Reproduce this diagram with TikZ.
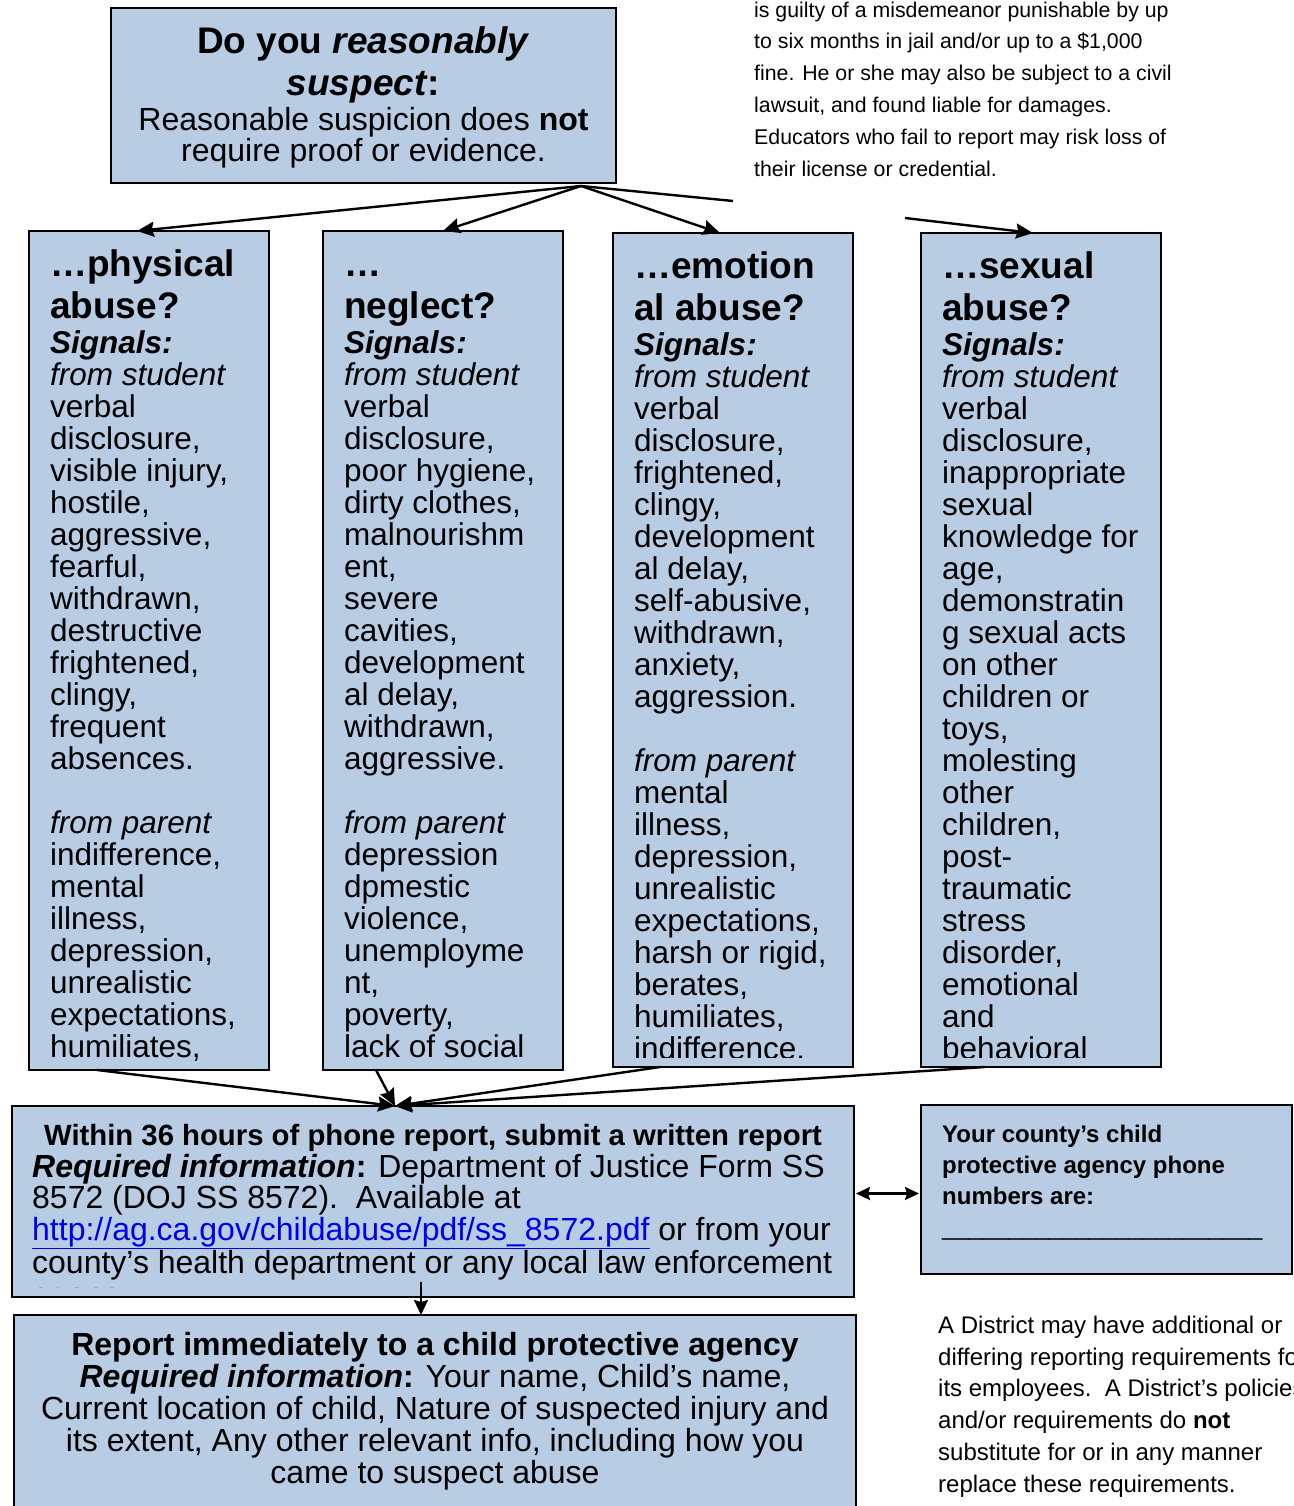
\documentclass[tikz,border=0pt]{standalone}
\usepackage{fontspec}
\setmainfont{Liberation Sans}
\usetikzlibrary{arrows.meta}

\definecolor{boxblue}{HTML}{B8CCE4}
\definecolor{urlblue}{HTML}{0000EE}

\newcommand\headfont{\fontsize{37}{42}\selectfont\bfseries}
\newcommand\colfont{\fontsize{31.5}{32}\selectfont}

\begin{document}
\begin{tikzpicture}[x=1pt,y=-1pt]

    \tikzset{
      panel/.style={
        draw=black,
        fill=boxblue,
        line width=2pt,
        outer sep=0pt,
        inner sep=0pt,
        anchor=north west,
      },
      txt/.style={inner sep=0pt, align=left, anchor=north west},
      feed/.style={line width=2.4pt, -{Stealth[length=17pt,width=15pt,inset=2pt]}},
    }
    \useasboundingbox (0,0) rectangle (1293,1506);

    % question box and the note beside it
    \node[panel, minimum width=505pt, minimum height=175pt] (suspect) at (111,8) {};
    \node[inner sep=0pt, align=center, anchor=north, font=\headfont] (suspectHead)
      at ([yshift=-15pt]suspect.north) {\rule{0pt}{30pt}Do you \textit{reasonably}\\\textit{suspect}:};
    \node[inner sep=0pt, align=center, anchor=north, font=\fontsize{32}{31.5}\selectfont] (suspectNote)
      at ([yshift=-96pt]suspect.north) {\rule{0pt}{26pt}Reasonable suspicion does \textbf{not}\\require proof or evidence.};
    \node[txt, font=\fontsize{21.3}{31.8}\selectfont] (penalty) at (754,-3)
      {\rule{0pt}{20pt}is guilty of a misdemeanor punishable by up\\to six months in jail and/or up to a \$1,000\\fine. He or she may also be subject to a civil\\lawsuit, and found liable for damages.\\Educators who fail to report may risk loss of\\their license or credential.};

    % the four kinds of abuse
    \node[panel, minimum width=240pt, minimum height=839pt] (physical) at (29,231) {};
    \begin{scope}
      \clip ([shift={(1pt,-1pt)}]physical.north west) rectangle ([shift={(-1pt,10pt)}]physical.south east);
      \node[txt, font=\headfont] (physicalHead) at ([shift={(21pt,-15pt)}]physical.north west)
        {\rule{0pt}{30pt}…physical\\abuse?};
      \node[txt, font=\colfont] (physicalSigns) at ([shift={(21pt,-96pt)}]physical.north west)
        {\rule{0pt}{26pt}\textbf{\textit{Signals:}}\\\textit{from student}\\verbal\\disclosure,\\visible injury,\\hostile,\\aggressive,\\fearful,\\withdrawn,\\destructive\\frightened,\\clingy,\\frequent\\absences.\\[32pt]\textit{from parent}\\indifference,\\mental\\illness,\\depression,\\unrealistic\\expectations,\\humiliates,};
    \end{scope}

    \node[panel, minimum width=240pt, minimum height=839pt] (neglect) at (323,231) {};
    \begin{scope}
      \clip ([shift={(1pt,-1pt)}]neglect.north west) rectangle ([shift={(-1pt,10pt)}]neglect.south east);
      \node[txt, font=\headfont] (neglectHead) at ([shift={(21pt,-15pt)}]neglect.north west)
        {\rule{0pt}{30pt}…\\neglect?};
      \node[txt, font=\colfont] (neglectSigns) at ([shift={(21pt,-96pt)}]neglect.north west)
        {\rule{0pt}{26pt}\textbf{\textit{Signals:}}\\\textit{from student}\\verbal\\disclosure,\\poor hygiene,\\dirty clothes,\\malnourishm\\ent,\\severe\\cavities,\\development\\al delay,\\withdrawn,\\aggressive.\\[32pt]\textit{from parent}\\depression\\dpmestic\\violence,\\unemployme\\nt,\\poverty,\\lack of social};
    \end{scope}

    \node[panel, minimum width=240pt, minimum height=834pt] (emotional) at (613,233) {};
    \begin{scope}
      \clip ([shift={(1pt,-1pt)}]emotional.north west) rectangle ([shift={(-1pt,10pt)}]emotional.south east);
      \node[txt, font=\headfont] (emotionalHead) at ([shift={(21pt,-15pt)}]emotional.north west)
        {\rule{0pt}{30pt}…emotion\\al abuse?};
      \node[txt, font=\colfont] (emotionalSigns) at ([shift={(21pt,-96pt)}]emotional.north west)
        {\rule{0pt}{26pt}\textbf{\textit{Signals:}}\\\textit{from student}\\verbal\\disclosure,\\frightened,\\clingy,\\development\\al delay,\\self-abusive,\\withdrawn,\\anxiety,\\aggression.\\[32pt]\textit{from parent}\\mental\\illness,\\depression,\\unrealistic\\expectations,\\harsh or rigid,\\berates,\\humiliates,\\indifference.};
    \end{scope}

    \node[panel, minimum width=240pt, minimum height=834pt] (sexual) at (921,233) {};
    \begin{scope}
      \clip ([shift={(1pt,-1pt)}]sexual.north west) rectangle ([shift={(-1pt,10pt)}]sexual.south east);
      \node[txt, font=\headfont] (sexualHead) at ([shift={(21pt,-15pt)}]sexual.north west)
        {\rule{0pt}{30pt}…sexual\\abuse?};
      \node[txt, font=\colfont] (sexualSigns) at ([shift={(21pt,-96pt)}]sexual.north west)
        {\rule{0pt}{26pt}\textbf{\textit{Signals:}}\\\textit{from student}\\verbal\\disclosure,\\inappropriate\\sexual\\knowledge for\\age,\\demonstratin\\g sexual acts\\on other\\children or\\toys,\\molesting\\other\\children,\\post-\\traumatic\\stress\\disorder,\\emotional\\and\\behavioral};
    \end{scope}

    % written report
    \node[panel, minimum width=842pt, minimum height=191pt] (written) at (12,1106) {};
    \begin{scope}
      \clip ([shift={(1pt,-1pt)}]written.north west) rectangle ([shift={(-1pt,10pt)}]written.south east);
      \node[inner sep=0pt, align=center, anchor=north, font=\fontsize{29.3}{32}\selectfont\bfseries] (writtenHead)
        at ([yshift=-13pt]written.north) {\rule{0pt}{26pt}Within 36 hours of phone report, submit a written report};
      \node[txt, font=\fontsize{32}{31.7}\selectfont] (writtenInfo) at ([shift={(20pt,-45pt)}]written.north west)
        {\rule{0pt}{26pt}\textbf{\textit{Required information}:} Department of Justice Form SS\\8572 (DOJ SS 8572).\ \ Available at\\\textcolor{urlblue}{\underline{http://ag.ca.gov/childabuse/pdf/ss\_8572.pdf}} or from your\\county’s health department or any local law enforcement\\agency.};
    \end{scope}

    % phone report
    \node[panel, minimum width=842pt, minimum height=230pt] (agency) at (14,1315) {};
    \node[inner sep=0pt, align=center, anchor=north, font=\fontsize{32}{32}\selectfont] (agencyInfo)
      at ([yshift=-14pt]agency.north)
      {\rule{0pt}{26pt}\textbf{Report immediately to a child protective agency}\\\textbf{\textit{Required information}:} Your name, Child’s name,\\Current location of child, Nature of suspected injury and\\its extent, Any other relevant info, including how you\\came to suspect abuse};

    % phone numbers and district note
    \node[panel, minimum width=371pt, minimum height=169pt] (phone) at (921,1105) {};
    \node[txt, font=\fontsize{24}{31}\selectfont\bfseries] (phoneInfo) at ([shift={(21pt,-17pt)}]phone.north west)
      {\rule{0pt}{20pt}Your county’s child\\protective agency phone\\numbers are:\\\mdseries\_\_\_\_\_\_\_\_\_\_\_\_\_\_\_\_\_\_\_\_\_\_\_\_};
    \node[txt, font=\fontsize{24}{31.8}\selectfont] (districtNote) at (938,1313)
      {\rule{0pt}{20pt}A District may have additional or\\differing reporting requirements for\\its employees.\ \ A District’s policies\\and/or requirements do \textbf{not}\\substitute for or in any manner\\replace these requirements.};

    % connectors
    \coordinate (fork) at (581,186);
    \coordinate (hideA) at (733,201);
    \coordinate (hideB) at (905,218);
    \draw[feed] (fork) -- ([xshift=-12pt]physical.north);
    \draw[feed] (fork) -- (neglect.north);
    \draw[feed] (fork) -- ([xshift=-13pt]emotional.north);
    \draw[feed,-] (fork) -- (hideA);
    \draw[feed] (hideB) -- ([xshift=-8pt]sexual.north);

    \coordinate (merge) at ([xshift=-38pt]written.north);
    \draw[feed] ([xshift=-52pt]physical.south) -- (merge);
    \draw[feed] ([xshift=-67pt]neglect.south) -- (merge);
    \draw[feed] ([xshift=-73pt]emotional.south) -- (merge);
    \draw[feed] ([xshift=-56pt]sexual.south) -- (merge);

    \coordinate (handoff) at ([xshift=-12pt,yshift=15pt]written.south);
    \draw[line width=2pt, -{Stealth[length=15pt,width=14pt,inset=2pt]}] (handoff) -- (handoff |- agency.north);

    \coordinate (link) at ([yshift=8pt]written.east);
    \draw[line width=2.4pt, {Stealth[length=14pt,width=13pt,inset=2pt]}-{Stealth[length=14pt,width=13pt,inset=2pt]},
      shorten <=2pt, shorten >=2pt] (link) -- (link -| phone.west);

\end{tikzpicture}
\end{document}
